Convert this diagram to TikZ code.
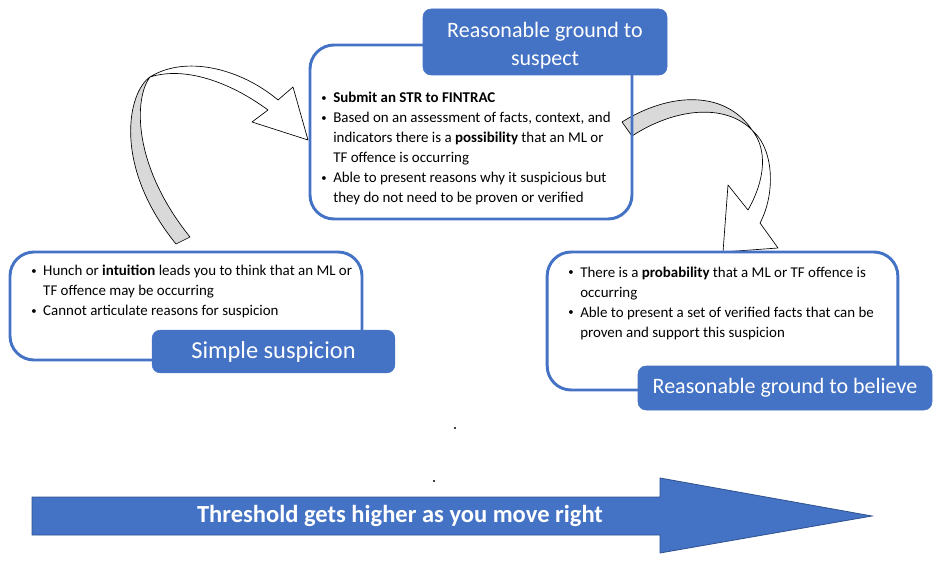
\documentclass[tikz,border=0pt]{standalone}
\usepackage{fontspec}
\setmainfont{Carlito}
\usepackage{tikz}
\usetikzlibrary{positioning, backgrounds}
\definecolor{officeblue}{HTML}{4472C4}
\definecolor{edgeblue}{HTML}{2F528F}
\definecolor{bandgrey}{HTML}{D9D9D9}
\newcommand{\blt}{\raisebox{0.8pt}{\fontsize{8}{8}\selectfont\textbullet}}
\tikzset{
    % Rounded frames that hold the bullet lists
    listbox/.style = {rectangle, rounded corners=18pt, draw=officeblue, line width=2.2pt, fill=none},
    tagbox/.style = {rectangle, rounded corners=6pt, fill=officeblue, draw=officeblue, text=white, align=center, font=\fontsize{16.5}{21}\selectfont},
    listtext/.style = {inner sep=0pt, font=\fontsize{11.2}{15}\selectfont},
    bandback/.style = {fill=bandgrey, draw=black, line width=0.5pt, line join=round},
    bandfront/.style = {fill=white, draw=black, line width=0.5pt, line join=round},
    dot/.style = {circle, fill=black, inner sep=0pt, minimum size=1.6pt}
}

\begin{document}
\begin{tikzpicture}[x=0.75pt, y=-0.75pt]

\useasboundingbox (0,0) rectangle (941,573);

% Nodes
\node[listbox, minimum width=241.5pt, minimum height=130.5pt] (suspect_box) at (471,132) {};
\node[tagbox, minimum width=183pt, minimum height=49.5pt, font=\fontsize{16.5}{21.5}\selectfont] (suspect_tag) at (545,42) {\rule{0pt}{17pt}Reasonable ground to\\suspect};
\node[listtext, anchor=base west] (suspect_text) at (321,103) {%
  \begin{tabular}[t]{@{}l@{\hspace{5pt}}l@{}}
  \blt & \textbf{Submit an STR to FINTRAC}\\
  \blt & Based on an assessment of facts, context, and\\
   & indicators there is a \textbf{possibility} that an ML or\\
   & TF offence is occurring\\
  \blt & Able to present reasons why it suspicious but\\
   & they do not need to be proven or verified
  \end{tabular}};

\node[listbox, minimum width=264pt, minimum height=81pt] (simple_box) at (186,306) {};
\node[tagbox, minimum width=182pt, minimum height=32pt, font=\fontsize{18.3}{22}\selectfont] (simple_tag) at (273.5,351.5) {Simple suspicion};
\node[listtext, anchor=base west] (simple_text) at (31,276) {%
  \begin{tabular}[t]{@{}l@{\hspace{5pt}}l@{}}
  \blt & Hunch or \textbf{intuition} leads you to think that an ML or\\
   & TF offence may be occurring\\
  \blt & Cannot articulate reasons for suspicion
  \end{tabular}};

\node[listbox, minimum width=263pt, minimum height=103.5pt] (believe_box) at (722.5,321) {};
\node[tagbox, minimum width=220.5pt, minimum height=33pt] (believe_tag) at (785,388) {Reasonable ground to believe};
\node[listtext, anchor=base west] (believe_text) at (568,277) {%
  \begin{tabular}[t]{@{}l@{\hspace{5pt}}l@{}}
  \blt & There is a \textbf{probability} that a ML or TF offence is\\
   & occurring\\
  \blt & Able to present a set of verified facts that can be\\
   & proven and support this suspicion
  \end{tabular}};

\node[dot] (dot_upper) at (455,428) {};
\node[dot] (dot_lower) at (434,481) {};

% Threshold arrow
\filldraw[fill=officeblue, draw=edgeblue, line width=0.6pt]
  (32,497) -- (660,497) -- (660,478) -- (872,516) -- (660,553) -- (660,535) -- (32,535) -- cycle;
\node[text=white, font=\fontsize{18.4}{22}\bfseries] (threshold_text) at (400,516) {Threshold gets higher as you move right};

% Curved arrows, kept behind the frames
\begin{scope}[on background layer]
\filldraw[bandback] (150,77) .. controls (128,92) and (112,165) .. (176,244) -- (190,237)
  .. controls (132,165) and (134,98) .. (150,77) -- cycle;
\filldraw[bandfront] (150,77) .. controls (185,55) and (240,68) .. (278,100) -- (293,87) -- (308,140)
  -- (252,122) -- (268,110) .. controls (230,82) and (185,66) .. (150,77) -- cycle;
\filldraw[bandback] (622,122) .. controls (670,92) and (725,90) .. (752,130)
  .. controls (725,103) and (675,108) .. (632,136) -- cycle;
\filldraw[bandfront] (752,130) .. controls (775,150) and (775,195) .. (760,223) -- (778,248) -- (723,252)
  -- (728,185) -- (748,210) .. controls (765,180) and (768,150) .. (752,130) -- cycle;
\end{scope}

\end{tikzpicture}
\end{document}
